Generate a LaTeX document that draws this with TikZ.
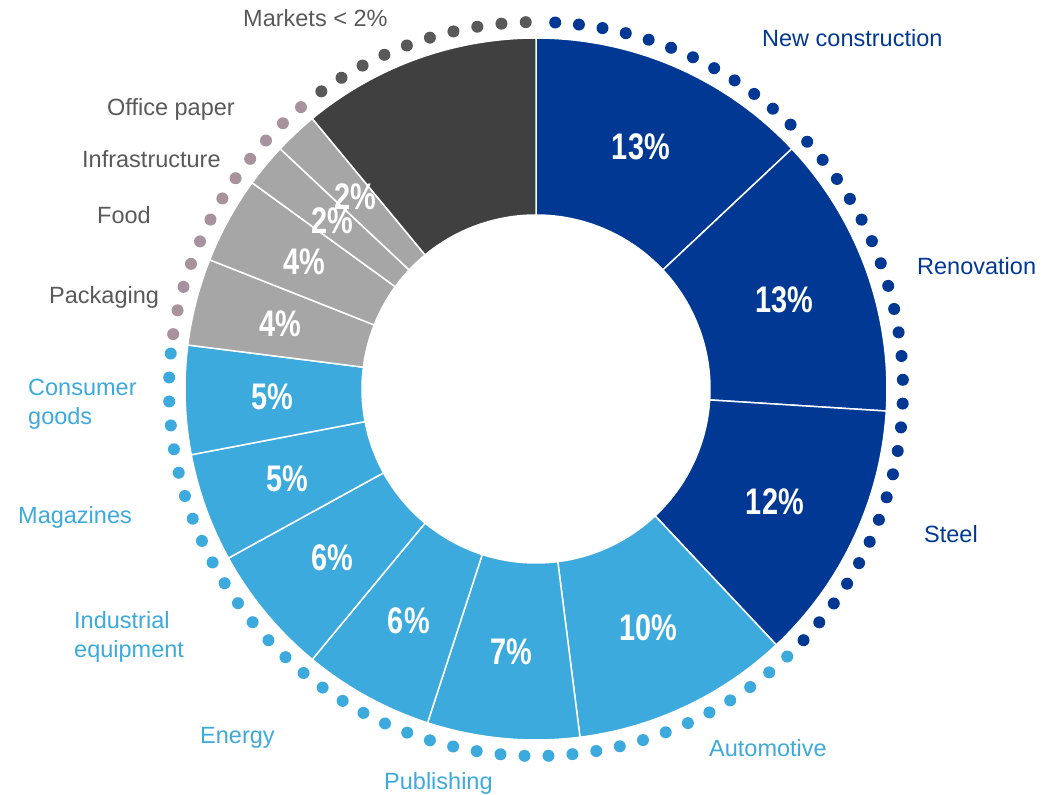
\documentclass[tikz,border=0pt]{standalone}
\usepackage{fontspec}
\setmainfont{Liberation Sans}
\newfontfamily\pctfont[FakeStretch=0.78]{Liberation Sans}
\definecolor{dkblue}{HTML}{003893}
\definecolor{ltblue}{HTML}{3DAADD}
\definecolor{midgray}{HTML}{A6A6A6}
\definecolor{darkseg}{HTML}{404040}
\definecolor{darkdot}{HTML}{595959}
\definecolor{pinkdot}{HTML}{A8929E}
\definecolor{labgray}{HTML}{595959}
\begin{document}
\begin{tikzpicture}[x=1pt,y=1pt,
  seg/.style={draw=white,line width=1.5pt,line join=miter},
  cat/.style={font=\fontsize{23.5}{29}\selectfont, inner sep=0pt, anchor=base west},
  cattwo/.style={font=\fontsize{23.5}{29}\selectfont, inner sep=0pt, anchor=west, align=left},
  pct/.style={font=\pctfont\bfseries\fontsize{37}{40}\selectfont, text=white, inner sep=0pt},
  ringdot/.style={fill=#1}]
\useasboundingbox (0,0) rectangle (1044,-795);
\coordinate (C) at (536,-389);
\begin{scope}[shift={(C)}]
  % segments
  \foreach \a/\b/\c in {90/43.2/dkblue, 43.2/-3.6/dkblue, -3.6/-46.8/dkblue,
      -46.8/-82.8/ltblue, -82.8/-108/ltblue, -108/-129.6/ltblue, -129.6/-151.2/ltblue,
      -151.2/-169.2/ltblue, -169.2/-187.2/ltblue,
      -187.2/-201.6/midgray, -201.6/-216/midgray, -216/-223.2/midgray, -223.2/-230.4/midgray,
      -230.4/-270/darkseg}{
    \filldraw[seg, fill=\c] (\a:351pt) arc[start angle=\a, end angle=\b, radius=351pt]
      -- (\b:174pt) arc[start angle=\b, end angle=\a, radius=174pt] -- cycle;
  }
  % dotted ring
  \foreach \k in {0,...,35}{\fill[ringdot=dkblue] ({87-3.72*\k}:367pt) circle[radius=6pt];}
  \foreach \k in {0,...,37}{\fill[ringdot=ltblue] ({-46.8-3.75*\k}:367pt) circle[radius=6pt];}
  \foreach \k in {0,...,11}{\fill[ringdot=pinkdot] ({171.4-3.78*\k}:367pt) circle[radius=6pt];}
  \foreach \k in {0,...,9}{\fill[ringdot=darkdot] ({125.8-3.8*\k}:367pt) circle[radius=6pt];}
  % percentage labels
  \node[pct] (p1) at (66.6:264pt) {13\%};
  \node[pct] (p2) at (19.8:264pt) {13\%};
  \node[pct] (p3) at (-25.2:264pt) {12\%};
  \node[pct] (p4) at (-64.8:264pt) {10\%};
  \node[pct] (p5) at (-95.4:264pt) {7\%};
  \node[pct] (p6) at (-118.8:264pt) {6\%};
  \node[pct] (p7) at (-140.4:264pt) {6\%};
  \node[pct] (p8) at (-160.2:264pt) {5\%};
  \node[pct] (p9) at (-178.2:264pt) {5\%};
  \node[pct] (p10) at (-194.4:264pt) {4\%};
  \node[pct] (p11) at (-208.8:264pt) {4\%};
  \node[pct] (p12) at (-219.6:264pt) {2\%};
  \node[pct] (p13) at (-226.8:264pt) {2\%};
\end{scope}
% category labels
\node[cat, text=labgray] (lmk) at (243,-27) {Markets < 2\%};
\node[cat, text=dkblue] (lnc) at (762,-46) {New construction};
\node[cat, text=dkblue] (lren) at (917,-274) {Renovation};
\node[cat, text=dkblue] (lst) at (924,-542) {Steel};
\node[cat, text=ltblue] (lau) at (709,-756) {Automotive};
\node[cat, text=ltblue] (lpu) at (384,-789) {Publishing};
\node[cat, text=ltblue] (len) at (200,-743) {Energy};
\node[cattwo, text=ltblue] (lie) at (74,-637) {Industrial\\equipment};
\node[cat, text=ltblue] (lmg) at (18,-523) {Magazines};
\node[cattwo, text=ltblue] (lcg) at (28,-404) {Consumer\\goods};
\node[cat, text=labgray] (lpk) at (49,-303) {Packaging};
\node[cat, text=labgray] (lfd) at (97,-223) {Food};
\node[cat, text=labgray] (lin) at (82,-167) {Infrastructure};
\node[cat, text=labgray] (lop) at (107,-115) {Office paper};
\end{tikzpicture}
\end{document}
